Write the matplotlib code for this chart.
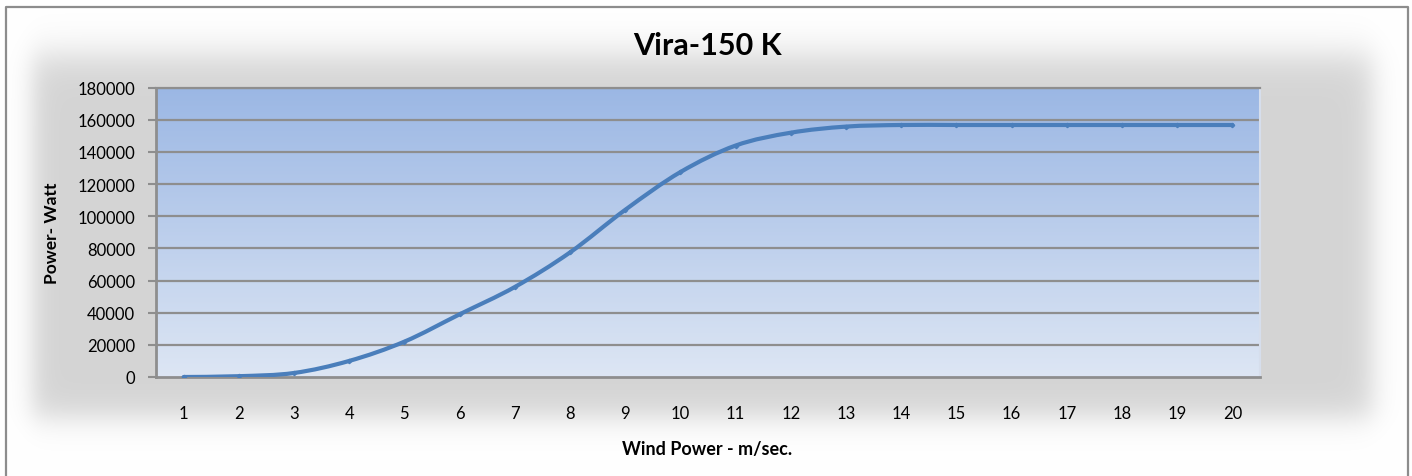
import matplotlib
matplotlib.use("Agg")

import matplotlib.pyplot as plt
import numpy as np
from matplotlib.path import Path
from matplotlib.patches import PathPatch

# wind speed categories and turbine output (W)
wind_speed = list(range(1, 21))
power_watt = [0, 500, 2500, 10000, 22000, 39000, 56000, 77500, 104000, 127500,
              144000, 152000, 155800, 156800, 156800, 156800, 156800, 156800, 156800, 156800]
y_ticks = list(range(0, 180001, 20000))

TITLE = "Vira-150 K"
X_LABEL = "Wind Power - m/sec."
Y_LABEL = "Power- Watt"

W, H = 1412, 477
LINE_BLUE = "#4A7EBB"
GRID_GREY = "#8E8E8E"

plt.rcParams["font.family"] = ["Lato", "DejaVu Sans"]

fig = plt.figure(figsize=(W / 100, H / 100), dpi=100)

# soft grey shadow behind the chart, Excel style
bg = fig.add_axes([0, 0, 1, 1])
xx = np.arange(W)[None, :]
yy = np.arange(H)[:, None]
sig = lambda d, s: 1.0 / (1.0 + np.exp(-d / s))
alpha = sig(xx - 32, 7) * sig(1372 - xx, 8) * sig(yy - 55, 11) * sig(418 - yy, 9)
shade = 255 - 43 * alpha
img = np.dstack([shade, shade, shade]) / 255.0
bg.imshow(img, extent=[0, W, H, 0], aspect="auto", interpolation="bilinear")
bg.plot([6, 6, 1408, 1408], [H + 5, 8, 8, H + 5], color="#8C8C8C", lw=1.6)
bg.set_xlim(0, W)
bg.set_ylim(H, 0)
bg.axis("off")

# plot area
left, right, top, bottom = 156, 1260, 88.7, 378
ax = fig.add_axes([left / W, 1 - bottom / H, (right - left) / W, (bottom - top) / H])
ax.set_xlim(0.5, 20.5)
ax.set_ylim(0, 180000)

# vertical blue gradient
grad = np.linspace(0, 1, 256)[:, None]
c_top = np.array([155, 183, 228]) / 255
c_bot = np.array([221, 230, 244]) / 255
grad_img = c_top[None, None, :] * (1 - grad[..., None]) + c_bot[None, None, :] * grad[..., None]
ax.imshow(grad_img, extent=[0, 1, 0, 1], transform=ax.transAxes, aspect="auto", zorder=0)

for yv in y_ticks[1:]:
    ax.axhline(yv, color=GRID_GREY, lw=1.6, zorder=1)

# smoothed line (Bezier segments through the points, like Excel's smooth line)
px = np.array(wind_speed, dtype=float)
py = np.array(power_watt, dtype=float)
verts = [(px[0], py[0])]
codes = [Path.MOVETO]
n = len(px)
for i in range(n - 1):
    p0 = np.array([px[max(i - 1, 0)], py[max(i - 1, 0)]])
    p1 = np.array([px[i], py[i]])
    p2 = np.array([px[i + 1], py[i + 1]])
    p3 = np.array([px[min(i + 2, n - 1)], py[min(i + 2, n - 1)]])
    c1 = p1 + (p2 - p0) / 6
    c2 = p2 - (p3 - p1) / 6
    verts += [tuple(c1), tuple(c2), tuple(p2)]
    codes += [Path.CURVE4] * 3
ax.add_patch(PathPatch(Path(verts, codes), fill=False, edgecolor=LINE_BLUE, lw=3,
                       capstyle="round", zorder=3))
ax.plot(wind_speed, power_watt, ls="none", marker="D", ms=2.2, color=LINE_BLUE, zorder=4)

ax.set_xticks(wind_speed)
ax.set_xticklabels([str(v) for v in wind_speed])
ax.set_yticks(y_ticks)
ax.set_yticklabels([str(v) for v in y_ticks])
ax.tick_params(axis="x", length=0, pad=20, labelsize=12, colors="black")
ax.tick_params(axis="y", length=6, width=1.5, color=GRID_GREY, pad=9, labelsize=12)

for side in ["left", "bottom"]:
    ax.spines[side].set_color(GRID_GREY)
    ax.spines[side].set_linewidth(2)
ax.spines["top"].set_color(GRID_GREY)
ax.spines["top"].set_linewidth(1.6)
ax.spines["right"].set_color("#D6DEEC")
ax.spines["right"].set_linewidth(1.5)

fig.text(707 / W, 1 - 46 / H, TITLE, ha="center", va="center", fontsize=22, fontweight="bold")
fig.text(707 / W, 1 - 450 / H, X_LABEL, ha="center", va="center", fontsize=13, fontweight="bold")
fig.text(52 / W, 1 - 233 / H, Y_LABEL, ha="center", va="center", rotation=90,
         fontsize=12.5, fontweight="bold")

fig.savefig("out.png", dpi=100)
plt.close(fig)
